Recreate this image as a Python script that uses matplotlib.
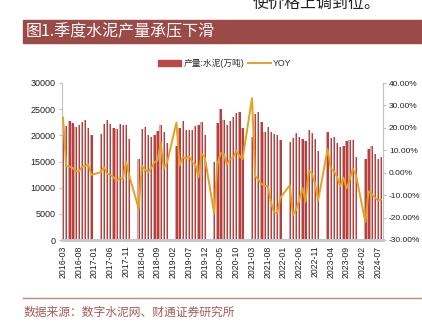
import matplotlib.pyplot as plt
import matplotlib.patches as mpatches
import matplotlib.lines as mlines
from matplotlib.ticker import FuncFormatter, MultipleLocator
import numpy as np
import pandas as pd

plt.rcParams['font.family'] = ['Liberation Sans', 'Noto Sans CJK SC', 'DejaVu Sans']

months = [p.strftime('%Y-%m') for p in pd.period_range('2016-03', '2024-08', freq='M')]

# 产量:水泥(万吨), 3-12月 (1-2月无单月数据)
out_2016 = [21800, 21700, 22800, 22400, 21500, 21900, 22500, 22900, 21400, 20000]
out_2017 = [20200, 22150, 22900, 22100, 21350, 21250, 22200, 22050, 22050, 19220]
out_2018 = [15520, 21130, 21550, 20000, 19650, 20030, 20850, 22050, 20600, 18440]
out_2019 = [18050, 21400, 22750, 21050, 21050, 21050, 21830, 21940, 22560, 20000]
out_2020 = [14900, 22450, 25000, 22930, 21880, 22650, 23470, 24240, 24430, 21460]
out_2021 = [19750, 24050, 24420, 22520, 20730, 21560, 20600, 20250, 20030, 19170]
out_2022 = [18700, 19490, 20370, 19650, 19290, 18840, 20970, 20530, 19260, 16940]
out_2023 = [20630, 19490, 19720, 18620, 17780, 18010, 18940, 19150, 19040, 15800]
out_2024 = [15480, 17400, 18040, 16470, 15450, 15770]

# YOY (%)
yoy_2016 = [24.5, 2.8, 2.8, 2.2, 0.8, 0.5, 2.6, 3.1, 3.7, -1.0]
yoy_2017 = [0.3, 2.4, -0.4, -1.0, -2.0, -3.6, -2.4, -2.9, 5.0, -1.3]
yoy_2018 = [-16.0, 3.2, 1.4, 0.3, 2.0, 4.7, 5.4, 13.3, 2.0, 4.3]
yoy_2019 = [22.4, 3.2, 7.0, 6.3, 7.4, 4.7, 3.9, -2.0, 8.5, 6.9]
yoy_2020 = [-18.3, 3.8, 8.7, 8.5, 3.6, 6.0, 6.6, 9.8, 7.5, 6.1]
yoy_2021 = [33.2, -1.5, -3.0, -5.0, -5.8, -6.0, -13.0, -17.7, -18.1, -11.2]
yoy_2022 = [-5.6, -18.9, -16.5, -12.3, -6.8, -12.9, 0.9, -0.2, -4.7, -12.3]
yoy_2023 = [10.5, 2.0, 0.8, -1.8, -6.0, -2.2, -7.0, -3.0, 1.8, -0.9]
yoy_2024 = [-22.0, -8.3, -9.5, -11.0, -12.4, -12.0]

out_years = [out_2016, out_2017, out_2018, out_2019, out_2020, out_2021, out_2022, out_2023, out_2024]
yoy_years = [yoy_2016, yoy_2017, yoy_2018, yoy_2019, yoy_2020, yoy_2021, yoy_2022, yoy_2023, yoy_2024]

output = []
yoy = []
for k in range(len(out_years)):
    if k > 0:
        output += [np.nan, np.nan]
        yoy += [np.nan, np.nan]
    output += out_years[k]
    yoy += yoy_years[k]
output = np.array(output, dtype=float)
yoy = np.array(yoy, dtype=float)
x = np.arange(len(months))

fig = plt.figure(figsize=(4.22, 3.24), dpi=100)
ax = fig.add_axes([61.5 / 422, 1 - 240 / 324, (382.7 - 61.5) / 422, (240 - 83) / 324])
ax2 = ax.twinx()

# bars: light left half, dark right half
ax.bar(x - 0.19, output, width=0.38, color='#dea3a1', linewidth=0)
ax.bar(x + 0.17, output, width=0.40, color='#b5403d', linewidth=0)

ok = ~np.isnan(yoy)
ax2.plot(x[ok], yoy[ok], color='#e5a020', lw=1.4, solid_joinstyle='round')

ax.set_xlim(-0.5, len(months) - 0.5)
ax.set_ylim(0, 30000)
ax.yaxis.set_major_locator(MultipleLocator(5000))
ax2.set_ylim(-30, 40)
ax2.yaxis.set_major_locator(MultipleLocator(10))
ax2.yaxis.set_major_formatter(FuncFormatter(lambda v, p: '%.2f%%' % v))

ax.set_xticks(x[::5])
ax.set_xticklabels(months[::5], rotation=90)

for a in (ax, ax2):
    a.spines['top'].set_visible(False)
    a.spines['left'].set_color('#c0c0c0')
    a.spines['right'].set_color('#c0c0c0')
    a.spines['bottom'].set_color('#c8c8c8')
    a.spines['bottom'].set_linewidth(2)
ax.spines['right'].set_visible(False)
ax2.spines['left'].set_visible(False)

ax.tick_params(axis='x', length=0, pad=4, labelsize=6.3, labelcolor='#222222')
ax.tick_params(axis='y', length=2.5, width=0.8, color='#c0c0c0', pad=2, labelsize=6.5, labelcolor='#222222')
ax2.tick_params(axis='y', length=2.5, width=0.8, color='#c0c0c0', pad=2, labelsize=6, labelcolor='#222222')

handles = [mpatches.Patch(color='#b94a48'), mlines.Line2D([], [], color='#e5a020', lw=1.4)]
fig.legend(handles, ['产量:水泥(万吨)', 'YOY'], loc='center', bbox_to_anchor=(225 / 422, 1 - 63.5 / 324),
           ncol=2, frameon=False, fontsize=6.3, handlelength=2.6, handleheight=0.7, columnspacing=0.4,
           handletextpad=0.3, labelcolor='#333333')

# 标题栏
fig.patches.append(mpatches.Rectangle((23 / 422, 1 - 42.7 / 324), 1, 22.7 / 324, transform=fig.transFigure,
                                      color='#9b4a48', zorder=0))
fig.text(26 / 422, 1 - 31.5 / 324, '图1.季度水泥产量承压下滑', color='white', fontsize=11.5,
         va='center', ha='left', family=['Noto Sans CJK SC'])
fig.text(253 / 422, 1 - 8 / 324, '使价格上调到位。', color='#222222', fontsize=11.5,
         va='baseline', ha='left', family=['Noto Sans CJK SC'])

fig.add_artist(mlines.Line2D([23 / 422, 1], [1 - 298.3 / 324, 1 - 298.3 / 324], color='#c8807d', lw=1,
                             transform=fig.transFigure))
fig.text(24 / 422, 1 - 312 / 324, '数据来源：数字水泥网、财通证券研究所', color='#a65b58', fontsize=8.5,
         va='center', ha='left', family=['Noto Sans CJK SC'])

fig.savefig('out.png', dpi=100)
